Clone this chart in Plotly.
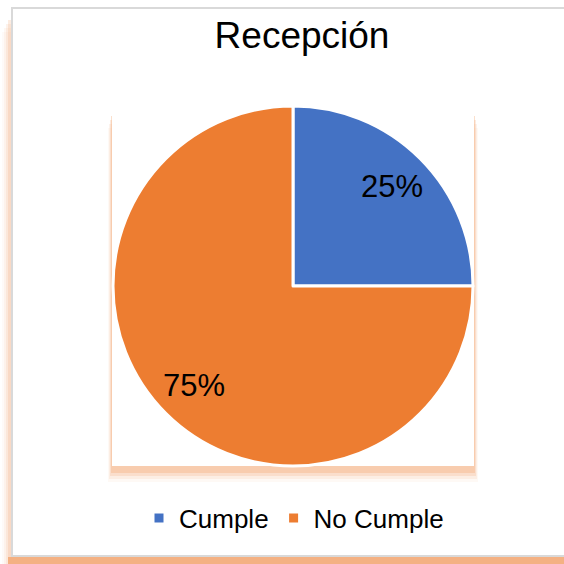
import math
import plotly.graph_objects as go

W = H = 564
title_text = "Recepción"
categories = ["Cumple", "No Cumple"]
values = [25, 75]
colors = ["#4472C4", "#ED7D31"]

# pie geometry (pixels)
CX, CY, R = 293, 286, 180
LABEL_R = 0.78


def px(x):
    return x / W


def py(y):
    return 1 - y / H


fig = go.Figure()
fig.add_trace(go.Pie(
    labels=categories,
    values=values,
    sort=False,
    direction="clockwise",
    rotation=0,
    marker=dict(colors=colors, line=dict(color="white", width=3)),
    textinfo="none",
    domain=dict(x=[px(CX - R), px(CX + R)], y=[py(CY + R), py(CY - R)]),
    hoverinfo="label+percent",
))

# percentage labels placed along each slice's bisector
annotations = []
total = sum(values)
cum = 0
for v in values:
    mid = (cum + v / 2) / total * 2 * math.pi
    cum += v
    lx = CX + LABEL_R * R * math.sin(mid)
    ly = CY - LABEL_R * R * math.cos(mid)
    annotations.append(dict(x=px(lx), y=py(ly), xref="paper", yref="paper",
                            text=f"{round(v / total * 100)}%", showarrow=False,
                            xanchor="center", yanchor="middle",
                            font=dict(family="Liberation Sans, Arial", size=31, color="black")))

shapes = []
# outer chart shadow (left and bottom)
for i, op in enumerate([0.06, 0.10, 0.16, 0.24]):
    shapes.append(dict(type="rect", xref="paper", yref="paper",
                       x0=px(2 + 2 * i), x1=px(12), y0=py(564), y1=py(20 + 4 * (3 - i)),
                       fillcolor="#F4B183", opacity=op, line_width=0, layer="below"))
shapes.append(dict(type="rect", xref="paper", yref="paper",
                   x0=px(8), x1=px(570), y0=py(564), y1=py(557),
                   fillcolor="#F4B183", opacity=1, line_width=0, layer="below"))
# outer border
shapes.append(dict(type="rect", xref="paper", yref="paper",
                   x0=px(12), x1=px(580), y0=py(556), y1=py(8),
                   fillcolor="white", line=dict(color="#D9D9D9", width=2), layer="below"))
# plot-area shadow
for i, op in enumerate([0.08, 0.15, 0.25, 0.40]):
    d = 4 - i
    shapes.append(dict(type="rect", xref="paper", yref="paper",
                       x0=px(112 - d), x1=px(474 + d), y0=py(470 + 3 * d), y1=py(112 + 4 * d),
                       fillcolor="#F4B183", opacity=op, line_width=0, layer="below"))
shapes.append(dict(type="rect", xref="paper", yref="paper",
                   x0=px(112), x1=px(474), y0=py(466), y1=py(96),
                   fillcolor="white", line_width=0, layer="below"))

fig.update_layout(
    width=W, height=H,
    margin=dict(l=0, r=0, t=0, b=0),
    paper_bgcolor="white",
    plot_bgcolor="white",
    shapes=shapes,
    annotations=annotations,
    title=dict(text=title_text, x=px(302), xanchor="center", y=py(35), yanchor="middle",
               font=dict(family="Liberation Sans, Arial", size=37, color="black")),
    showlegend=True,
    legend=dict(orientation="h", x=px(294), xanchor="center", y=py(518), yanchor="middle",
                font=dict(family="Liberation Sans, Arial", size=26, color="black"),
                bgcolor="rgba(0,0,0,0)"),
)

fig.write_html("out.html",
               config={"displayModeBar": False},
               post_script="document.body.style.margin='0';document.body.style.padding='0';")
